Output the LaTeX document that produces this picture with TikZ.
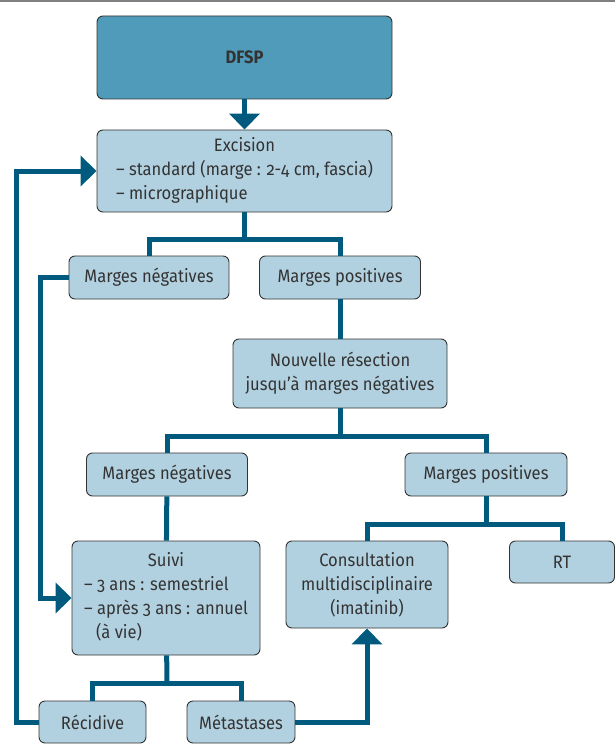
\documentclass[tikz,border=0pt]{standalone}
\usepackage{fontspec}
\setmainfont{Fira Sans}[Numbers=OldStyle,FakeStretch=0.92]
\usetikzlibrary{arrows.meta}
\definecolor{darkbox}{HTML}{509BB9}
\definecolor{lightbox}{HTML}{B2D1E0}
\definecolor{wirecol}{HTML}{005A7D}
\definecolor{txt}{HTML}{333333}

\begin{document}
\begin{tikzpicture}[x=1pt,y=-1pt,
		box/.style={draw=txt,line width=0.9pt,rounded corners=6pt,fill=lightbox,text=txt,
			font=\fontsize{18}{24}\selectfont,inner sep=0pt,align=center},
		wire/.style={draw=wirecol,line width=5pt},
		arr/.style={wire,-{Triangle[width=30pt,length=16pt]}}]
		\useasboundingbox (0,0) rectangle (615,749);
		\draw[gray,line width=1.5pt] (0,1) -- (615,1);

		\node[box,fill=darkbox,minimum width=295pt,minimum height=83pt,font=\fontsize{18}{24}\selectfont\bfseries] (D) at (244.5,57.5) {DFSP};
		\node[box,minimum width=295pt,minimum height=82pt] (E) at (244.5,171) {\begin{tabular}{@{}l@{}}\multicolumn{1}{@{}c@{}}{Excision}\\– standard (marge : 2-4 cm, fascia)\\– micrographique\end{tabular}};
		\node[box,minimum width=160pt,minimum height=43pt] (N1) at (149,277.5) {Marges négatives};
		\node[box,minimum width=161pt,minimum height=43pt] (P1) at (340,277.5) {Marges positives};
		\node[box,minimum width=214pt,minimum height=69pt] (R) at (340,373.5) {Nouvelle résection\\jusqu’à marges négatives};
		\node[box,minimum width=161pt,minimum height=43pt] (N2) at (167,474.5) {Marges négatives};
		\node[box,minimum width=162pt,minimum height=43pt] (P2) at (486,474.5) {Marges positives};
		\node[box,minimum width=188pt,minimum height=114pt] (S) at (166,598) {\begin{tabular}{@{}l@{}}\multicolumn{1}{@{}c@{}}{Suivi}\\– 3 ans : semestriel\\– après 3 ans : annuel\\\hspace*{12pt}(à vie)\end{tabular}};
		\node[box,minimum width=162pt,minimum height=87pt] (C) at (367,584.5) {Consultation\\multidisciplinaire\\(imatinib)};
		\node[box,minimum width=105pt,minimum height=42pt] (T) at (562,562) {RT};
		\node[box,minimum width=107pt,minimum height=42pt] (Rc) at (92.5,722) {Récidive};
		\node[box,minimum width=108pt,minimum height=42pt] (M) at (241,722) {Métastases};

		\coordinate (j1) at (244.5,239);
		\coordinate (j2) at (340,436);
		\coordinate (j3) at (486,524);
		\coordinate (j4) at (167,683);
		\coordinate (l1) at (16,450);
		\coordinate (l2) at (40,450);

		\draw[arr] (D) -- (E);
		\draw[wire] (E) -- (j1);
		\draw[wire] (N1.north) |- (j1) -| (P1.north);
		\draw[wire] (P1) -- (R);
		\draw[wire] (R) -- (j2);
		\draw[wire] (N2.north) |- (j2) -| (P2.north);
		\draw[wire] (N2) -- (S);
		\draw[wire] (P2) -- (j3);
		\draw[wire] (C.north) |- (j3) -| (T.north);
		\draw[wire] (S) -- (j4);
		\draw[wire] (Rc.north) |- (j4) -| (M.north);
		\draw[arr] (M.east) -| (C.south);
		\draw[arr] (Rc.west) -| (l1) |- (E.west);
		\draw[arr] (N1.west) -| (l2) |- (S.west);
	\end{tikzpicture}
\end{document}
